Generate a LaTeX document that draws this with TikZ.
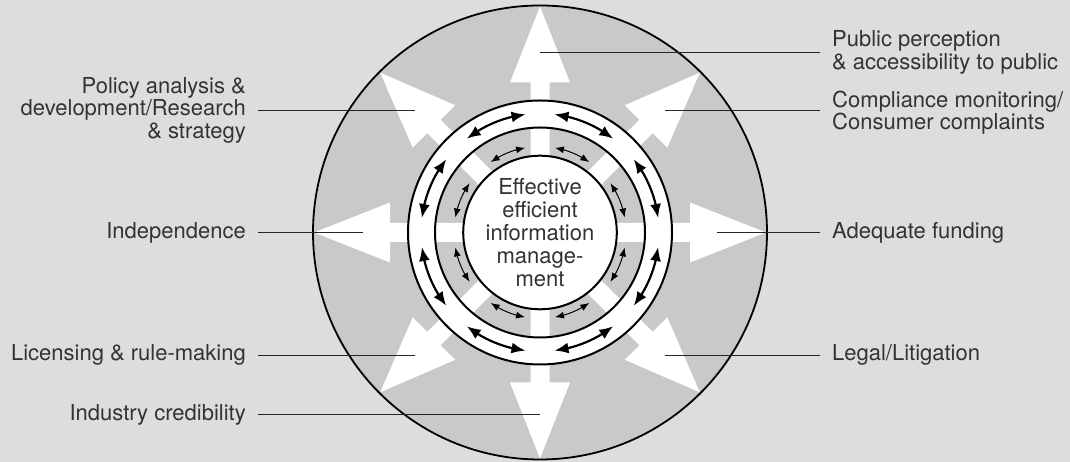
\documentclass[tikz,border=0pt]{standalone}
\usepackage{fontspec}
\setmainfont{TeX Gyre Heros}
\usetikzlibrary{arrows.meta, bending, calc}
\definecolor{paper}{RGB}{220,221,223}
\definecolor{disc}{RGB}{200,201,203}

\begin{document}
\begin{tikzpicture}[
  x=1pt, y=1pt,
  every node/.style={font=\fontsize{22}{22.5}\selectfont, text=black!80, inner sep=0pt},
  leftlbl/.style={anchor=east, align=right},
  rightlbl/.style={anchor=west, align=left},
  leader/.style={line width=0.9pt, black!85, shorten <=12pt},
  core/.style={circle, draw=black, fill=white, line width=2pt, minimum size=134pt, align=center, font=\fontsize{22}{23}\selectfont},
  ringarrow/.style={line width=2.2pt, {Latex[length=14pt,width=11pt]}-{Latex[length=14pt,width=11pt]}},
  thinarrow/.style={line width=1pt, {Latex[length=9pt,width=7pt]}-{Latex[length=9pt,width=7pt]}}
]

% Background and outer disc
\useasboundingbox (0,0) rectangle (1070,462);
\fill[paper] (0,0) rectangle (1070,462);
\coordinate (C) at (540,229.5);
\fill[disc] (C) circle[radius=227];

% White arrows in eight directions
\foreach \a in {0,45,...,315}{
  \fill[white, shift={(C)}, rotate=\a] (0,-9.5) -- (150,-9.5) -- (150,-30) -- (226,0)
    -- (150,30) -- (150,9.5) -- (0,9.5) -- cycle;
}

% Rings
\fill[white, even odd rule] (C) circle[radius=132] circle[radius=105];
\draw[line width=2pt] (C) circle[radius=132] (C) circle[radius=105];
\draw[line width=1.8pt] (C) circle[radius=227];
\node[core] (centre) at (C) {Effective\\efficient\\information\\manage-\\ment};

% Arrows round the rings
\foreach \a in {0,45,...,315}{
  \draw[ringarrow, shift={(C)}] ({\a+7}:119) arc[start angle=\a+7, end angle=\a+38, radius=119];
  \draw[thinarrow, shift={(C)}] ({\a+10}:86) arc[start angle=\a+10, end angle=\a+35, radius=86];
}

% Ends of the leader lines
\coordinate (ptPolicy) at (415,352);
\coordinate (ptIndep) at (363,229.5);
\coordinate (ptLicence) at (415,107);
\coordinate (ptIndustry) at (540,47.5);
\coordinate (ptPublic) at (540,410);
\coordinate (ptComply) at (665,352);
\coordinate (ptFunding) at (717,229.5);
\coordinate (ptLegal) at (665,107);

% Labels
\node[leftlbl] (policy) at (246,352) {Policy analysis \&\\development/Research\\\& strategy};
\node[leftlbl] (indep) at (246,229.5) {Independence};
\node[leftlbl] (licence) at (246,107) {Licensing \& rule-making};
\node[leftlbl] (industry) at (246,47.5) {Industry credibility};
\node[rightlbl] (public) at (832,409.5) {Public perception\\\& accessibility to public};
\node[rightlbl] (comply) at (832,349.5) {Compliance monitoring/\\Consumer complaints};
\node[rightlbl] (funding) at (832,229.5) {Adequate funding};
\node[rightlbl] (legal) at (832,107) {Legal/Litigation};

% Leader lines
\foreach \lbl/\pt in {policy/ptPolicy, indep/ptIndep, licence/ptLicence, industry/ptIndustry}{
  \draw[leader] (\lbl.east |- \pt) -- (\pt);
}
\foreach \lbl/\pt in {public/ptPublic, comply/ptComply, funding/ptFunding, legal/ptLegal}{
  \draw[leader] (\lbl.west |- \pt) -- (\pt);
}

\end{tikzpicture}
\end{document}
